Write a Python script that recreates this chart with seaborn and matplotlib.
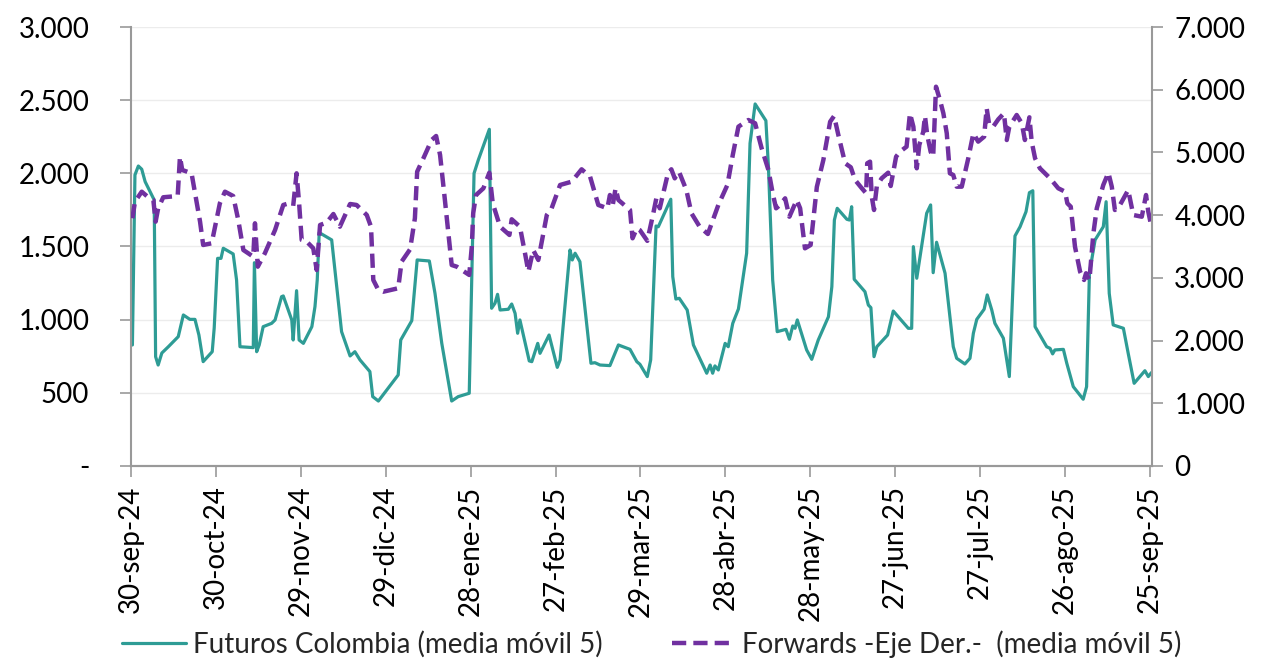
import numpy as np
import pandas as pd
import matplotlib
matplotlib.use("Agg")
import matplotlib.pyplot as plt
import seaborn as sns

# days counted from 30-sep-24
fut_days = [0.5, 1.4, 2.6, 3.8, 5.0, 7.3, 8.2, 8.7, 9.6, 10.9, 13.2, 16.7, 18.5, 20.8, 22.6, 24.0,
            25.5, 28.7, 29.4, 30.6, 31.8, 32.6, 36.1, 37.3, 38.5, 43.2, 43.6, 44.4, 45.3, 46.7,
            49.7, 50.9, 53.2, 53.8, 56.8, 57.3, 58.5, 59.4, 60.9, 63.9, 65.0, 65.8, 66.5, 70.9,
            72.7, 74.4, 77.4, 79.1, 80.9, 84.4, 85.4, 87.4, 94.4, 95.3, 99.2, 101.1, 105.4,
            107.4, 109.8, 113.3, 115.6, 119.5, 121.2, 122.7, 126.6, 127.4, 128.6, 129.5, 130.4,
            133.3, 134.5, 135.7, 136.6, 137.4, 140.7, 141.6, 143.7, 144.5, 147.7, 150.6, 151.6,
            155.1, 155.9, 156.9, 158.6, 162.5, 163.9, 165.7, 169.2, 172.2, 176.3, 178.7, 179.8,
            182.4, 183.6, 185.5, 186.3, 190.7, 191.4, 192.5, 193.7, 196.5, 198.7, 203.4, 204.6,
            205.5, 206.3, 207.5, 209.9, 211.0, 212.6, 214.6, 217.5, 218.7, 220.5, 224.3, 225.2,
            226.7, 228.3, 231.4, 232.6, 233.8, 234.6, 235.4, 238.7, 240.5, 242.8, 246.4, 247.6,
            248.5, 249.5, 252.9, 253.8, 254.6, 255.5, 259.3, 260.5, 261.4, 262.5, 263.5, 267.3,
            269.3, 274.6, 275.8, 276.4, 277.6, 281.1, 282.5, 283.4, 284.6, 287.6, 290.5, 291.7,
            294.6, 296.4, 297.6, 298.8, 301.4, 302.5, 304.1, 305.2, 308.2, 310.3, 312.3, 314.1,
            316.2, 317.4, 318.6, 319.4, 323.5, 324.7, 325.6, 326.4, 329.4, 330.6, 332.9, 336.4,
            337.6, 338.6, 340.6, 343.5, 344.5, 345.6, 347.0, 350.6, 352.3, 354.4, 358.2, 359.4,
            360.5]
fut_vals = [827, 1989, 2050, 2028, 1943, 1852, 1818, 747, 690, 772, 815, 884, 1032, 1002, 1002, 895,
            713, 781, 943, 1419, 1419, 1488, 1449, 1271, 815, 809, 1389, 781, 827, 952,
            975, 998, 1157, 1162, 998, 861, 1198, 861, 838, 952, 1089, 1271, 1595, 1545,
            1225, 918, 752, 781, 725, 645, 474, 444, 622, 861, 993, 1408, 1401,
            1180, 838, 444, 474, 497, 2000, 2091, 2301, 1078, 1112, 1173, 1066,
            1071, 1107, 1043, 907, 998, 718, 713, 838, 770, 895, 674, 725,
            1476, 1408, 1454, 1396, 702, 706, 690, 686, 827, 797, 713, 695,
            611, 725, 1640, 1635, 1823, 1294, 1141, 1146, 1066, 827, 634, 690,
            634, 684, 656, 838, 815, 975, 1073, 1454, 2205, 2474, 2360, 2045,
            1271, 918, 934, 866, 957, 941, 998, 793, 729, 861, 1020, 1225,
            1681, 1761, 1686, 1681, 1772, 1276, 1191, 1100, 1082, 747, 815, 895,
            1059, 941, 941, 1499, 1283, 1727, 1784, 1321, 1529, 1317, 815, 736,
            697, 736, 907, 1002, 1071, 1169, 1066, 975, 873, 611, 1572, 1635,
            1738, 1868, 1881, 952, 815, 804, 766, 793, 797, 702, 542, 456,
            542, 1317, 1545, 1635, 1806, 1180, 964, 941, 770, 565, 651, 611,
            638]

fwd_days = [0.5, 1.4, 3.8, 6.1, 7.9, 8.7, 9.6, 11.4, 16.5, 17.3, 18.1, 21.4, 24.4, 25.5, 28.5,
            31.4, 33.2, 36.1, 37.9, 39.7, 43.2, 43.8, 44.8, 47.3, 50.9, 53.8, 55.0, 57.3, 58.5,
            59.4, 60.3, 62.1, 64.4, 65.6, 66.8, 69.1, 71.5, 73.8, 77.4, 79.7, 83.3, 84.8, 85.6,
            87.4, 89.1, 94.4, 95.6, 98.6, 100.3, 101.1, 103.3, 106.2, 107.8, 109.2, 110.9, 113.3,
            115.1, 119.5, 120.4, 120.9, 121.9, 124.5, 126.6, 127.8, 130.4, 133.7, 134.5, 137.4,
            139.2, 140.4, 142.1, 143.9, 146.9, 148.6, 151.6, 155.7, 159.2, 162.2, 165.1, 168.3,
            169.2, 170.2, 171.2, 172.2, 176.3, 177.2, 178.7, 179.8, 182.4, 184.4, 185.6, 186.8,
            189.7, 190.9, 192.1, 193.6, 196.2, 198.0, 200.9, 203.8, 207.5, 210.7, 212.6, 214.6,
            218.1, 220.5, 222.8, 225.2, 226.7, 227.9, 229.3, 231.1, 232.6, 235.2, 236.4, 238.1,
            240.1, 241.3, 242.3, 244.6, 247.0, 248.4, 249.9, 252.3, 254.3, 255.8, 258.2, 259.7,
            260.1, 261.1, 261.7, 262.5, 263.5, 265.2, 267.5, 268.4, 270.3, 271.7, 274.0, 275.2,
            276.4, 277.6, 278.5, 279.9, 280.5, 281.3, 282.5, 283.4, 284.4, 285.8, 287.0, 288.2,
            289.3, 290.5, 291.7, 293.5, 295.8, 297.6, 299.3, 301.4, 302.3, 303.2, 304.6, 306.4,
            308.4, 309.4, 310.3, 312.9, 314.7, 315.8, 317.4, 318.2, 319.4, 321.1, 324.7, 327.6,
            330.0, 330.8, 332.0, 333.5, 335.3, 336.7, 337.4, 338.6, 340.0, 341.2, 343.5, 345.3,
            346.5, 347.6, 349.4, 352.3, 354.1, 357.1, 358.6, 359.4, 360.5]
fwd_vals = [3950, 4215, 4374, 4285, 4242, 3896, 4109, 4285, 4305, 4932, 4720, 4667, 3896, 3524, 3551,
            4189, 4374, 4305, 3923, 3444, 3338, 3870, 3178, 3392, 3763, 4162, 4178, 4146, 4667,
            4189, 3604, 3577, 3471, 3125, 3843, 3880, 4018, 3816, 4178, 4162, 4002, 3816, 2966,
            2806, 2779, 2834, 3258, 3455, 3950, 4693, 4906, 5198, 5262, 4959, 4242, 3205,
            3178, 3046, 3497, 4030, 4321, 4428, 4677, 4189, 3816, 3684, 3934, 3816,
            3392, 3099, 3444, 3285, 4002, 4109, 4481, 4534, 4731, 4613, 4162, 4109,
            4321, 4162, 4428, 4242, 4082, 3631, 3790, 3760, 3590, 4002, 4268, 4109,
            4667, 4731, 4587, 4693, 4401, 4030, 3816, 3699, 4162, 4481, 4959, 5411,
            5517, 5465, 5066, 4720, 4349, 4109, 4162, 4268, 3975, 4242, 4109, 3471,
            3524, 4030, 4450, 4879, 5490, 5581, 5278, 4827, 4763, 4561, 4428, 4349,
            4827, 4853, 4295, 4082, 4465, 4587, 4677, 4465, 4932, 5012, 5092, 5624,
            5411, 4747, 5119, 5331, 5581, 5278, 5012, 4932, 6048, 5836, 5624, 5305,
            4667, 4640, 4454, 4454, 4906, 5305, 5172, 5251, 5704, 5438, 5411, 5528,
            5624, 5198, 5411, 5597, 5465, 5198, 5560, 5172, 4906, 4747, 4587, 4428,
            4374, 4189, 4135, 3497, 3099, 2966, 3073, 2966, 3710, 4109, 4481, 4677,
            4454, 4082, 4162, 4401, 4002, 3975, 4321, 4055, 3816]

tick_labels = ["30-sep-24", "30-oct-24", "29-nov-24", "29-dic-24", "28-ene-25", "27-feb-25",
               "29-mar-25", "28-abr-25", "28-may-25", "27-jun-25", "27-jul-25", "26-ago-25",
               "25-sep-25"]
left_labels = ["-", "500", "1.000", "1.500", "2.000", "2.500", "3.000"]
right_labels = ["0", "1.000", "2.000", "3.000", "4.000", "5.000", "6.000", "7.000"]

start = pd.Timestamp("2024-09-30")
fut = pd.DataFrame({"fecha": start + pd.to_timedelta(fut_days, unit="D"), "valor": fut_vals})
fwd = pd.DataFrame({"fecha": start + pd.to_timedelta(fwd_days, unit="D"), "valor": fwd_vals})

sns.set_theme(style="white")
plt.rcParams["font.family"] = ["Lato", "DejaVu Sans"]

teal = "#2e9c95"
purple = "#7030a0"
grey = "#999999"

fig = plt.figure(figsize=(12.68, 6.62), dpi=100)
ax = fig.add_axes([0.1033, 0.2961, 0.8052, 0.6631])
ax2 = ax.twinx()

sns.lineplot(data=fut, x="fecha", y="valor", ax=ax, color=teal, linewidth=2.3,
             label="Futuros Colombia (media móvil 5)", legend=False)
sns.lineplot(data=fwd, x="fecha", y="valor", ax=ax2, color=purple, linewidth=3.2,
             label="Forwards -Eje Der.-  (media móvil 5)", legend=False)
ax2.lines[0].set_dashes([3.2, 1.6])
ax2.lines[0].set_dash_capstyle("butt")

ax.set_xlim(start, start + pd.Timedelta(days=360.7))
ax.set_ylim(0, 3000)
ax2.set_ylim(0, 7000)

ticks = [start + pd.Timedelta(days=30 * i) for i in range(len(tick_labels))]
ax.set_xticks(ticks)
ax.set_xticklabels(tick_labels, rotation=90)
ax.set_yticks(np.arange(0, 3001, 500))
ax.set_yticklabels(left_labels)
ax2.set_yticks(np.arange(0, 7001, 1000))
ax2.set_yticklabels(right_labels)

ax.yaxis.grid(True, color="#ececec", linewidth=1)
ax.set_axisbelow(True)
ax.set_xlabel("")
ax.set_ylabel("")
ax2.set_ylabel("")

for a in (ax, ax2):
    for s in a.spines.values():
        s.set_visible(False)
    a.spines["bottom"].set_visible(True)
    a.spines["bottom"].set_color(grey)
    a.spines["bottom"].set_linewidth(1.5)
ax.spines["left"].set_visible(True)
ax.spines["left"].set_color(grey)
ax.spines["left"].set_linewidth(1.5)
ax2.spines["right"].set_visible(True)
ax2.spines["right"].set_color(grey)
ax2.spines["right"].set_linewidth(1.5)

ax.tick_params(axis="y", which="major", left=True, length=8, width=1.2, color=grey,
               labelsize=20, pad=22, labelcolor="black")
ax.tick_params(axis="x", which="major", bottom=True, length=8, width=1.2, color=grey,
               labelsize=20, pad=6, labelcolor="black")
ax2.tick_params(axis="y", which="major", right=True, length=8, width=1.2, color=grey,
                labelsize=20, pad=8, labelcolor="black")

handles = ax.get_lines()[:1] + ax2.get_lines()[:1]
fig.legend(handles, [h.get_label() for h in handles], loc="lower center",
           bbox_to_anchor=(0.514, -0.032), ncol=2, frameon=False, fontsize=20,
           handlelength=2.3, columnspacing=2.5, handletextpad=0.25)

fig.savefig("out.png", dpi=100)
